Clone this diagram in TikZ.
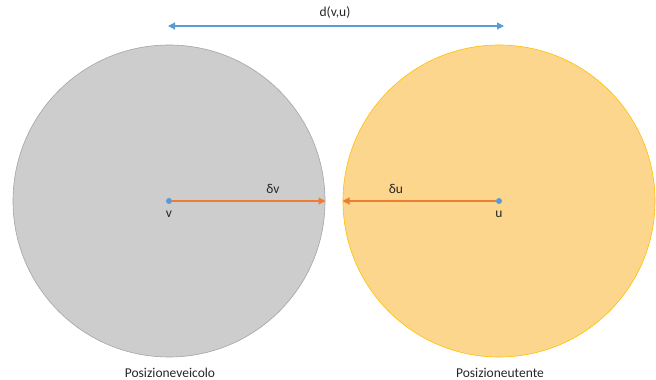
\documentclass[tikz,border=0pt]{standalone}
\usepackage{fontspec}
\setmainfont{Carlito}
\usetikzlibrary{arrows.meta}
\definecolor{cgray}{RGB}{205,205,205}
\definecolor{cgrayedge}{RGB}{165,165,165}
\definecolor{corange}{RGB}{253,214,142}
\definecolor{corangeedge}{RGB}{255,192,0}
\definecolor{carrow}{RGB}{237,125,49}
\definecolor{cblue}{RGB}{91,155,213}
\tikzset{
  disk/.style={circle, minimum size=312pt, inner sep=0pt, line width=0.6pt},
  dot/.style={circle, fill=cblue, minimum size=6pt, inner sep=0pt},
  lbl/.style={font=\fontsize{13.5}{15}\selectfont, text=black!85, inner sep=0pt},
  radarrow/.style={carrow, line width=1.2pt, -{Triangle[length=7pt,width=7pt]}},
  distarrow/.style={cblue, line width=1.2pt, {Triangle[length=7pt,width=7pt]}-{Triangle[length=7pt,width=7pt]}}
}
\begin{document}
\begin{tikzpicture}[x=1pt,y=1pt]
\useasboundingbox[fill=white] (0,0) rectangle (656,380);
\node[disk, fill=cgray, draw=cgrayedge] (gc) at (169,179) {};
\node[disk, fill=corange, draw=corangeedge] (oc) at (499,179) {};
\node[dot] (v) at (169,179) {};
\node[dot] (u) at (499,179) {};
\coordinate (ve) at (325.5,179);
\coordinate (ue) at (342.5,179);
\draw[radarrow] (v) -- (ve);
\draw[radarrow] (u) -- (ue);
\node[lbl] (dv) at (273,191) {δv};
\node[lbl] (du) at (396,191) {δu};
\node[lbl] (vl) at (169,166) {v};
\node[lbl] (ul) at (499,166) {u};
\coordinate (da) at (168,354);
\coordinate (db) at (504,354);
\draw[distarrow] (da) -- (db);
\node[lbl] (d) at (335,367) {d(v,u)};
\node[lbl] (pv) at (170,7) {Posizioneveicolo};
\node[lbl] (pu) at (500,7) {Posizioneutente};
\end{tikzpicture}
\end{document}
